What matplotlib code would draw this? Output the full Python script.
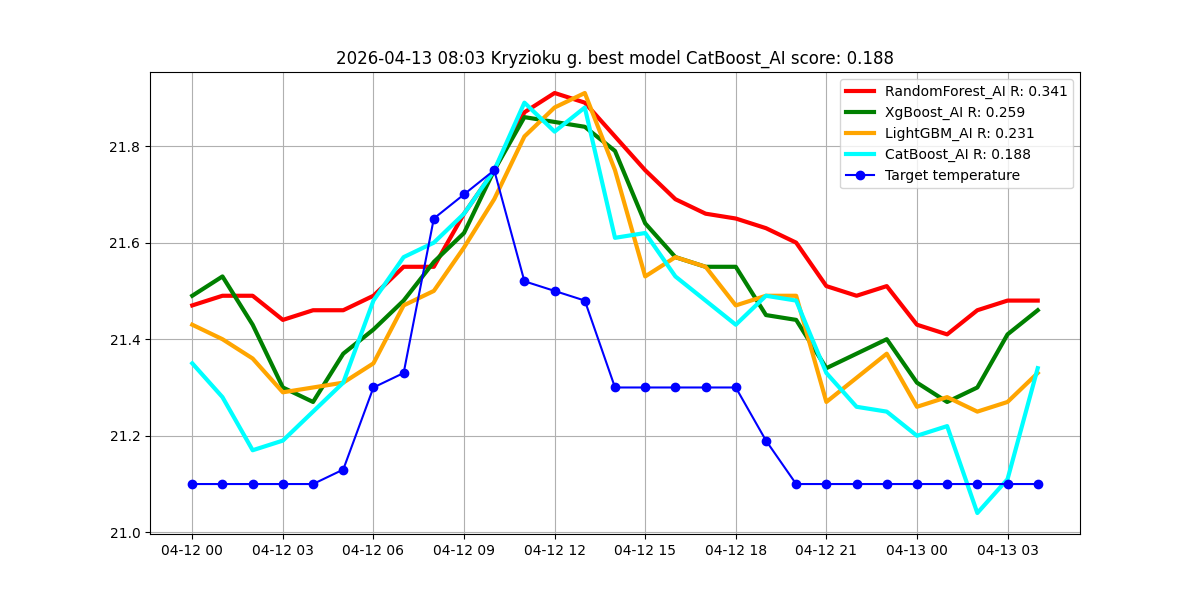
import matplotlib
matplotlib.use("Agg")
import matplotlib.pyplot as plt
import matplotlib.dates as mdates
import pandas as pd

times = pd.date_range("2026-04-12 00:00", periods=29, freq="h")

target = [21.10, 21.10, 21.10, 21.10, 21.10, 21.13, 21.30, 21.33, 21.65, 21.70,
          21.75, 21.52, 21.50, 21.48, 21.30, 21.30, 21.30, 21.30, 21.30, 21.19,
          21.10, 21.10, 21.10, 21.10, 21.10, 21.10, 21.10, 21.10, 21.10]

rf = [21.47, 21.49, 21.49, 21.44, 21.46, 21.46, 21.49, 21.55, 21.55, 21.66,
      21.75, 21.87, 21.91, 21.89, 21.82, 21.75, 21.69, 21.66, 21.65, 21.63,
      21.60, 21.51, 21.49, 21.51, 21.43, 21.41, 21.46, 21.48, 21.48]

xgb = [21.49, 21.53, 21.43, 21.30, 21.27, 21.37, 21.42, 21.48, 21.56, 21.62,
       21.75, 21.86, 21.85, 21.84, 21.79, 21.64, 21.57, 21.55, 21.55, 21.45,
       21.44, 21.34, 21.37, 21.40, 21.31, 21.27, 21.30, 21.41, 21.46]

lgbm = [21.43, 21.40, 21.36, 21.29, 21.30, 21.31, 21.35, 21.47, 21.50, 21.59,
        21.69, 21.82, 21.88, 21.91, 21.75, 21.53, 21.57, 21.55, 21.47, 21.49,
        21.49, 21.27, 21.32, 21.37, 21.26, 21.28, 21.25, 21.27, 21.33]

cat = [21.35, 21.28, 21.17, 21.19, 21.25, 21.31, 21.48, 21.57, 21.60, 21.66,
       21.75, 21.89, 21.83, 21.88, 21.61, 21.62, 21.53, 21.48, 21.43, 21.49,
       21.48, 21.33, 21.26, 21.25, 21.20, 21.22, 21.04, 21.11, 21.34]

labels = ["RandomForest_AI R: 0.341", "XgBoost_AI R: 0.259",
          "LightGBM_AI R: 0.231", "CatBoost_AI R: 0.188"]
colors = ["red", "green", "orange", "cyan"]

fig, ax = plt.subplots(figsize=(12, 6), dpi=100)
for series, lab, col in zip([rf, xgb, lgbm, cat], labels, colors):
    ax.plot(times, series, color=col, linewidth=3, label=lab)
ax.plot(times, target, color="blue", marker="o", linewidth=1.5,
        label="Target temperature")

ax.xaxis.set_major_locator(mdates.HourLocator(byhour=range(0, 24, 3)))
ax.xaxis.set_major_formatter(mdates.DateFormatter("%m-%d %H"))
ax.grid(True)
ax.legend(loc="upper right")
ax.set_title("2026-04-13 08:03 Kryzioku g. best model CatBoost_AI score: 0.188")

fig.savefig("out.png", dpi=100)
